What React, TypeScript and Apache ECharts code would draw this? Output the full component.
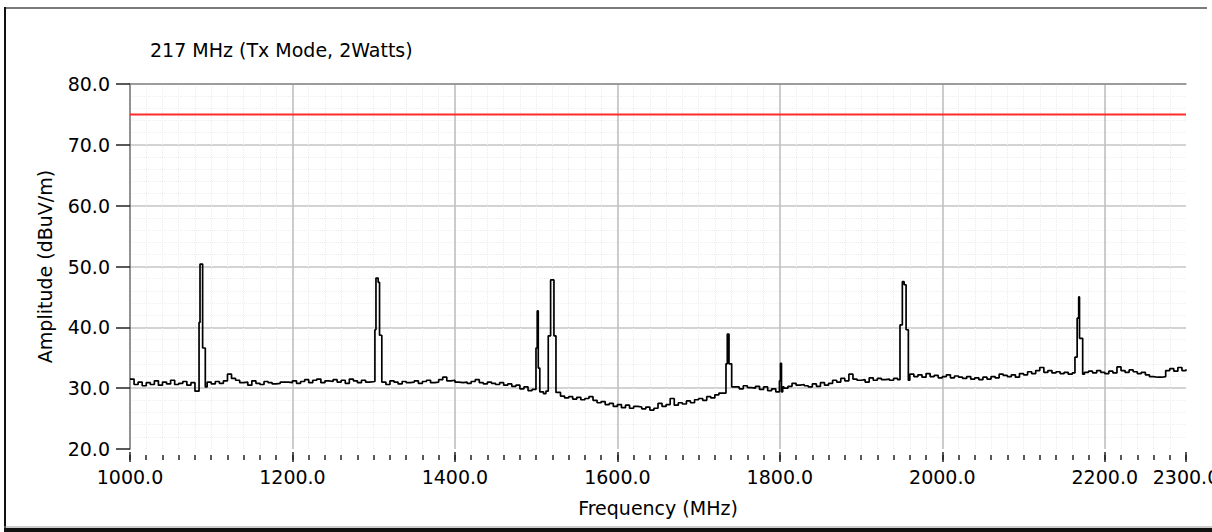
import React, { useEffect, useRef } from "react";
import * as echarts from "echarts";

const TITLE = "217 MHz (Tx Mode, 2Watts)";
const X_NAME = "Frequency (MHz)";
const Y_NAME = "Amplitude (dBuV/m)";
const LIMIT_LEVEL = 75;
const X_MIN = 1000;
const X_MAX = 2300;
const Y_MIN = 20;
const Y_MAX = 80;
const F_START = 1000;
const F_STEP = 5;

// Noise floor (dBuV/m) sampled every 5 MHz, one row per 100 MHz
const floor1000 = [31.5, 30.6, 31.0, 30.4, 30.9, 30.6, 31.2, 30.5, 31.0, 30.7, 31.3, 30.6, 30.8, 31.1, 30.5, 30.9, 29.5, 30.6, 30.8, 31.0];
const floor1100 = [30.7, 31.1, 30.8, 31.2, 32.3, 31.6, 31.3, 30.9, 31.0, 30.5, 31.2, 30.8, 30.6, 31.1, 30.9, 30.7, 30.8, 31.0, 31.0, 30.9];
const floor1200 = [31.2, 30.8, 31.1, 31.4, 30.9, 31.3, 31.5, 30.9, 31.2, 31.1, 31.4, 31.0, 31.3, 30.8, 31.5, 31.2, 30.9, 31.3, 31.0, 31.1];
const floor1300 = [31.0, 30.8, 31.0, 30.6, 31.2, 31.0, 30.7, 31.1, 30.9, 31.0, 31.2, 30.8, 31.1, 31.3, 30.9, 31.0, 31.4, 31.8, 31.2, 31.3];
const floor1400 = [31.0, 30.9, 31.0, 30.8, 31.1, 31.4, 30.9, 30.7, 31.0, 30.8, 30.6, 30.9, 30.5, 30.7, 30.3, 30.5, 29.9, 30.2, 29.6, 29.8];
const floor1500 = [29.7, 29.8, 30.0, 29.6, 29.4, 29.0, 28.7, 28.4, 28.6, 28.2, 28.5, 28.1, 28.3, 28.6, 28.0, 27.6, 27.8, 27.3, 27.5, 27.0];
const floor1600 = [27.3, 26.8, 27.2, 26.7, 27.0, 26.9, 26.6, 26.9, 26.4, 26.7, 27.5, 27.0, 27.3, 28.3, 27.2, 27.6, 27.4, 27.9, 27.6, 28.1];
const floor1700 = [28.3, 28.0, 28.6, 28.4, 28.9, 29.2, 29.4, 29.6, 29.8, 30.2, 29.9, 30.4, 30.1, 30.0, 30.3, 29.8, 30.2, 29.6, 29.9, 29.4];
const floor1800 = [29.8, 30.0, 30.3, 30.8, 30.5, 30.6, 30.4, 30.2, 30.7, 30.3, 30.9, 30.5, 30.8, 31.3, 31.0, 31.6, 31.2, 32.3, 31.5, 31.3];
const floor1900 = [31.4, 31.0, 31.7, 31.3, 31.6, 31.4, 31.5, 31.3, 31.6, 31.4, 31.8, 31.6, 32.3, 31.9, 32.2, 31.8, 32.4, 31.9, 32.1, 31.7];
const floor2000 = [31.9, 32.2, 31.7, 32.0, 31.8, 31.6, 31.9, 31.5, 31.7, 31.4, 31.8, 31.5, 31.9, 31.7, 32.3, 32.1, 31.9, 32.2, 31.8, 32.4];
const floor2100 = [32.2, 32.7, 32.4, 32.9, 33.4, 32.6, 32.9, 32.5, 32.7, 32.4, 32.6, 32.3, 32.5, 32.4, 32.6, 32.6, 32.8, 32.5, 32.9, 32.6];
const floor2200 = [32.4, 32.8, 32.5, 33.5, 32.9, 32.6, 33.0, 32.7, 32.4, 32.6, 32.2, 31.9, 31.8, 31.8, 31.9, 32.9, 33.2, 32.8, 33.4, 32.9, 33.1];

// Spurious emissions: [frequency MHz, amplitude dBuV/m]
const spike1085: [number, number][] = [[1085.0, 40.8], [1086.2, 50.4], [1089.4, 36.6], [1092.7, 30.2]];
const spike1300: [number, number][] = [[1301.5, 39.6], [1302.8, 48.1], [1305.5, 47.4], [1307.2, 38.7], [1310.0, 31.0]];
const spike1510: [number, number][] = [[1499.8, 36.6], [1501.3, 42.7], [1502.6, 33.3], [1504.5, 29.4], [1509.0, 29.1], [1512.0, 29.5], [1514.9, 38.6], [1517.8, 47.8], [1521.9, 38.6], [1524.4, 29.3]];
const spike1735: [number, number][] = [[1733.7, 34.0], [1735.3, 38.9], [1737.4, 34.0], [1740.7, 30.2]];
const spike1800: [number, number][] = [[1799.5, 31.2], [1800.8, 34.1], [1802.0, 29.4], [1803.5, 30.2]];
const spike1950: [number, number][] = [[1947.9, 40.4], [1950.8, 47.5], [1953.0, 47.0], [1955.4, 39.6], [1958.2, 31.3]];
const spike2168: [number, number][] = [[2163.3, 35.1], [2166.0, 41.5], [2167.9, 45.0], [2168.9, 38.2], [2172.8, 32.3]];

const spikeGroups = [
  { from: 1085, to: 1090, points: spike1085 },
  { from: 1300, to: 1310, points: spike1300 },
  { from: 1500, to: 1525, points: spike1510 },
  { from: 1730, to: 1740, points: spike1735 },
  { from: 1800, to: 1800, points: spike1800 },
  { from: 1950, to: 1955, points: spike1950 },
  { from: 2165, to: 2170, points: spike2168 },
];

const noiseFloor = [
  ...floor1000, ...floor1100, ...floor1200, ...floor1300, ...floor1400, ...floor1500, ...floor1600,
  ...floor1700, ...floor1800, ...floor1900, ...floor2000, ...floor2100, ...floor2200,
];

const FONT = "'DejaVu Sans', Verdana, sans-serif";

function buildTrace(): [number, number][] {
  const base: [number, number][] = noiseFloor.map((v, i) => [F_START + F_STEP * i, v]);
  const kept = base.filter(([f]) => !spikeGroups.some((g) => f >= g.from && f <= g.to));
  const all = [...kept, ...spikeGroups.flatMap((g) => g.points)];
  return all.sort((a, b) => a[0] - b[0]);
}

export default function App() {
  const ref = useRef<HTMLDivElement>(null);
  useEffect(() => {
    if (!ref.current) return;
    const chart = echarts.init(ref.current, undefined, { renderer: "svg" });
    const fmt = (v: number) => v.toFixed(1);
    chart.setOption({
      animation: false,
      backgroundColor: "#ffffff",
      title: {
        text: TITLE,
        left: 145,
        top: 35,
        textStyle: { fontFamily: FONT, fontSize: 19, fontWeight: "normal", color: "#000" },
      },
      grid: { left: 130, right: 26, top: 84, bottom: 83, containLabel: false, outerBoundsMode: "none" },
      xAxis: [
        {
          type: "value",
          min: X_MIN,
          max: X_MAX,
          interval: 20,
          position: "bottom",
          offset: 6,
          axisLine: { show: false },
          axisTick: { show: true, length: 5, lineStyle: { color: "#222", width: 1.5 } },
          axisLabel: { show: false },
          splitLine: { show: true, showMinLine: false, showMaxLine: false, lineStyle: { color: "#ececec", width: 1, type: "dotted" } },
        },
        {
          type: "value",
          min: X_MIN,
          max: X_MAX,
          interval: 200,
          position: "bottom",
          offset: 3,
          axisLine: { show: false },
          axisTick: { show: true, length: 10, lineStyle: { color: "#222", width: 1.5 } },
          axisLabel: {
            margin: 15,
            formatter: fmt,
            fontFamily: FONT,
            fontSize: 19,
            color: "#000",
            showMinLabel: true,
            showMaxLabel: true,
            hideOverlap: false,
          },
          splitLine: { show: true, showMinLine: false, showMaxLine: false, lineStyle: { color: "#bdbdbd", width: 1.5 } },
          name: X_NAME,
          nameLocation: "middle",
          nameGap: 46,
          nameTextStyle: { fontFamily: FONT, fontSize: 19, color: "#000" },
        },
        {
          type: "value",
          min: X_MIN,
          max: X_MAX,
          position: "top",
          axisLine: { show: true, lineStyle: { color: "#8a8a8a", width: 1.5 } },
          axisTick: { show: false },
          axisLabel: { show: false },
          splitLine: { show: false },
        },
      ],
      yAxis: {
        type: "value",
        min: Y_MIN,
        max: Y_MAX,
        interval: 10,
        axisLine: { show: true, lineStyle: { color: "#6e6e6e", width: 1.5 } },
        axisTick: { show: true, length: 14, lineStyle: { color: "#222", width: 1.5 } },
        axisLabel: { margin: 20, formatter: fmt, fontFamily: FONT, fontSize: 19, color: "#000" },
        splitLine: { show: true, showMinLine: false, lineStyle: { color: "#c4c4c4", width: 1.5 } },
        minorTick: { show: false, splitNumber: 5 },
        minorSplitLine: { show: true, lineStyle: { color: "#efefef", width: 1, type: "dotted" } },
        name: Y_NAME,
        nameLocation: "middle",
        nameGap: 76,
        nameRotate: 90,
        nameTextStyle: { fontFamily: FONT, fontSize: 19, color: "#000" },
      },
      series: [
        {
          type: "line",
          xAxisIndex: 1,
          data: buildTrace(),
          step: "end",
          showSymbol: false,
          lineStyle: { color: "#000", width: 1.7 },
        },
        {
          type: "line",
          xAxisIndex: 1,
          data: [[X_MIN, LIMIT_LEVEL], [X_MAX, LIMIT_LEVEL]],
          showSymbol: false,
          lineStyle: { color: "#ff2a2a", width: 2 },
        },
      ],
      graphic: [
        { type: "line", shape: { x1: 5, y1: 8, x2: 1207, y2: 8 }, style: { stroke: "#7a7a7a", lineWidth: 2 } },
        { type: "line", shape: { x1: 5, y1: 7, x2: 5, y2: 532 }, style: { stroke: "#111", lineWidth: 2 } },
        { type: "line", shape: { x1: 4, y1: 527, x2: 1212, y2: 527 }, style: { stroke: "#999", lineWidth: 1 } },
        { type: "line", shape: { x1: 4, y1: 530, x2: 1212, y2: 530 }, style: { stroke: "#111", lineWidth: 4 } },
      ],
    });
    return () => chart.dispose();
  }, []);
  return <div ref={ref} style={{ position: "fixed", left: 0, top: 0, width: 1212, height: 532 }} />;
}
